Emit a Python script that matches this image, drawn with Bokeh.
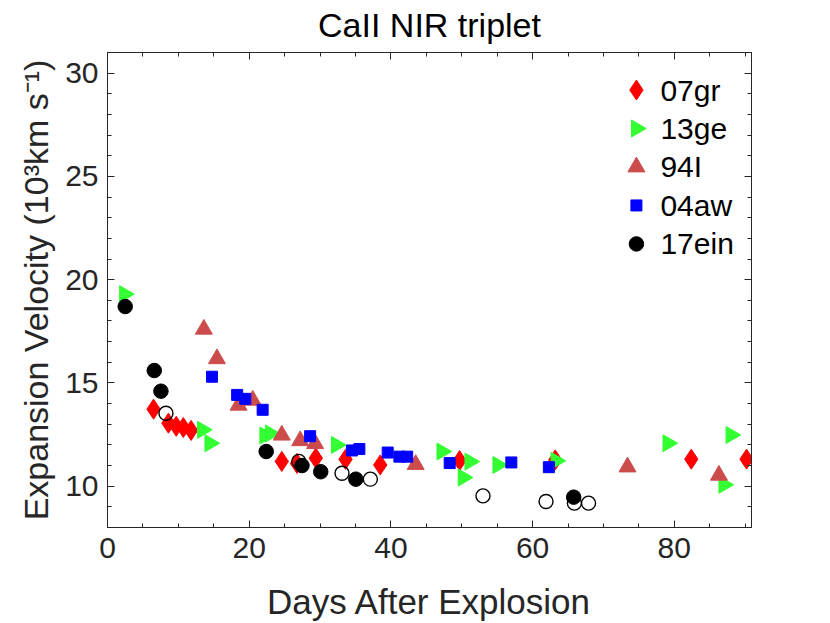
import math
from bokeh.plotting import figure
from bokeh.models import Range1d, LinearAxis, FixedTicker, CustomJSTickFormatter
from bokeh.core.properties import value
from bokeh.embed import file_html
from bokeh.resources import INLINE

# ---- data ----
gr07_x = [6.5, 8.6, 9.7, 10.7, 11.8, 24.6, 26.75, 29.4, 33.6, 38.5, 49.7, 63.2, 82.4, 90.2]
gr07_y = [13.73, 13.05, 12.9, 12.84, 12.7, 11.2, 11.1, 11.36, 11.3, 11.03, 11.24, 11.27, 11.31, 11.31]

ge13_x = [2.4, 13.4, 14.45, 22.2, 23.0, 32.3, 47.2, 50.2, 51.15, 55.1, 63.3, 79.1, 87.0, 88.0]
ge13_y = [19.3, 12.73, 12.08, 12.45, 12.55, 12.0, 11.68, 10.42, 11.19, 11.03, 11.23, 12.08, 10.07, 12.48]

i94_x = [13.6, 15.45, 18.5, 20.5, 24.6, 27.2, 29.3, 43.5, 73.4, 86.3]
i94_y = [17.6, 16.17, 13.92, 14.16, 12.47, 12.2, 12.06, 11.05, 10.93, 10.53]

aw04_x = [14.75, 18.3, 19.45, 21.9, 28.6, 34.5, 35.55, 39.55, 41.2, 42.3, 48.3, 57.0, 62.3]
aw04_y = [15.3, 14.42, 14.23, 13.7, 12.42, 11.73, 11.8, 11.63, 11.43, 11.43, 11.12, 11.15, 10.92]

ein17_x = [2.5, 6.6, 7.54, 22.4, 27.45, 30.1, 35.05, 65.8]
ein17_y = [18.7, 15.6, 14.6, 11.68, 11.0, 10.7, 10.34, 9.47]

ein17_open_x = [8.25, 27.0, 33.1, 37.1, 53.0, 61.9, 65.9, 67.9]
ein17_open_y = [13.53, 11.2, 10.63, 10.34, 9.53, 9.26, 9.18, 9.18]

legend_labels = ["07gr", "13ge", "94I", "04aw", "17ein"]
title_text = "CaII NIR triplet"

x_major = [0, 20, 40, 60, 80]
x_minor = list(range(0, 95, 5))
y_major = [10, 15, 20, 25, 30]
y_minor = list(range(8, 32))

FONT = "Liberation Sans"
AX = "#262626"
RED = "#ff0000"
GREEN = "#33ff33"
ROSE = "#cc4c4c"
BLUE = "#0000ff"

p = figure(width=830, height=623, x_range=Range1d(0, 90.9), y_range=Range1d(8, 31),
           output_backend="svg", toolbar_location=None, title=title_text,
           min_border_left=107, min_border_right=79, min_border_top=52, min_border_bottom=95)
p.xgrid.visible = False
p.ygrid.visible = False
p.outline_line_color = AX
p.background_fill_color = "white"

p.title.align = "center"
p.title.text_font = FONT
p.title.text_font_style = "normal"
p.title.text_font_size = "34px"
p.title.text_color = "black"
p.title.standoff = 4


def style_axis(ax, labels=True):
    ax.axis_line_color = AX
    ax.axis_line_width = 1
    ax.major_tick_line_color = AX
    ax.minor_tick_line_color = AX
    ax.major_tick_in = 7
    ax.major_tick_out = 0
    ax.minor_tick_in = 4
    ax.minor_tick_out = 0
    ax.major_label_text_font = FONT
    ax.major_label_text_font_size = "30px"
    ax.major_label_text_color = AX
    ax.axis_label_text_font = FONT
    ax.axis_label_text_font_style = "normal"
    ax.axis_label_text_color = AX
    if not labels:
        ax.formatter = CustomJSTickFormatter(code="return ''")
        ax.major_label_standoff = 0


p.xaxis.ticker = FixedTicker(ticks=x_major, minor_ticks=x_minor)
p.yaxis.ticker = FixedTicker(ticks=y_major, minor_ticks=y_minor)
style_axis(p.xaxis[0])
style_axis(p.yaxis[0])
p.xaxis.axis_label = "Days After Explosion"
p.yaxis.axis_label = "Expansion Velocity (10\u00b3km s\u207b\u00b9)"
p.xaxis.axis_label_text_font_size = "35px"
p.yaxis.axis_label_text_font_size = "34px"
p.xaxis.major_label_standoff = 10
p.yaxis.major_label_standoff = 9
p.xaxis.axis_label_standoff = 21
p.yaxis.axis_label_standoff = 7

top_ax = LinearAxis(ticker=FixedTicker(ticks=x_major, minor_ticks=x_minor))
right_ax = LinearAxis(ticker=FixedTicker(ticks=y_major, minor_ticks=y_minor))
style_axis(top_ax, labels=False)
style_axis(right_ax, labels=False)
p.add_layout(top_ax, "above")
p.add_layout(right_ax, "right")

# invisible spacer axis that lifts the title a little above the frame
spacer_ax = LinearAxis(ticker=FixedTicker(ticks=x_major, minor_ticks=[]))
style_axis(spacer_ax, labels=False)
spacer_ax.axis_line_color = None
spacer_ax.major_tick_line_color = None
spacer_ax.minor_tick_line_color = None
spacer_ax.major_tick_in = 0
spacer_ax.major_tick_out = 7
p.add_layout(spacer_ax, "above")

series = [
    (gr07_x, gr07_y, dict(marker="diamond", size=20, fill_color=RED, line_color=RED)),
    (ge13_x, ge13_y, dict(marker="triangle", angle=-math.pi / 2, size=17, fill_color=GREEN, line_color=GREEN)),
    (i94_x, i94_y, dict(marker="triangle", size=17, fill_color=ROSE, line_color=ROSE)),
    (aw04_x, aw04_y, dict(marker="square", size=11, fill_color=BLUE, line_color=BLUE)),
    (ein17_x, ein17_y, dict(marker="circle", size=14.5, fill_color="black", line_color="black")),
]

for i, (xs, ys, st) in enumerate(series):
    if i == 4:
        p.scatter(ein17_open_x, ein17_open_y, marker="circle", size=14, fill_color=None,
                  line_color="black", line_width=1.4)
    p.scatter(xs, ys, **st)

# legend, drawn in fractional frame coordinates so the 13ge marker keeps its direction
p.extra_x_ranges = {"frac": Range1d(0, 1)}
p.extra_y_ranges = {"frac": Range1d(0, 1)}
leg_mx, leg_tx, leg_y0, leg_dy = 0.8213, 0.8586, 0.921, 0.081
for i, (_, _, st) in enumerate(series):
    p.scatter([leg_mx], [leg_y0 - i * leg_dy], x_range_name="frac", y_range_name="frac", **st)
p.text(x=[leg_tx] * len(legend_labels),
       y=[leg_y0 - i * leg_dy for i in range(len(legend_labels))],
       text=legend_labels, x_range_name="frac", y_range_name="frac",
       text_font=value(FONT), text_font_size="30px", text_color="black",
       text_baseline="middle", text_align="left")

open("out.html", "w").write(file_html(p, INLINE))
